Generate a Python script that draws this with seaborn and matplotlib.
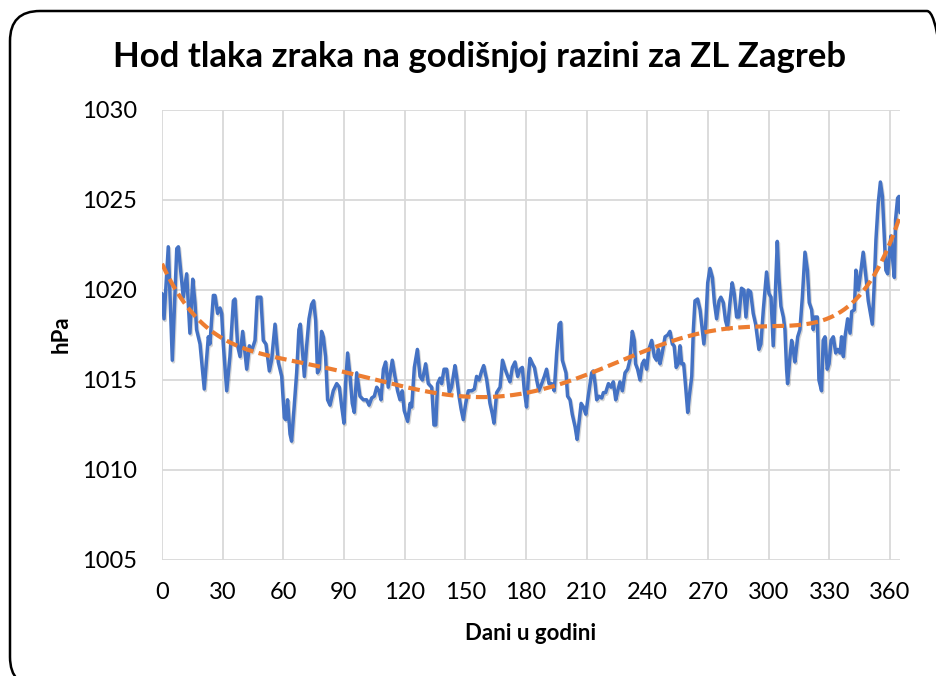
import numpy as np
import matplotlib
matplotlib.use("Agg")
import matplotlib.pyplot as plt
import matplotlib.patheffects as pe
from matplotlib.patches import FancyBboxPatch
from matplotlib.transforms import IdentityTransform
import seaborn as sns

# dnevni tlak zraka (hPa), ocitano sa slike
dani = [0, 1, 3.1, 5.1, 7.3, 8.1, 10.5, 12.2, 13.8, 15.2, 16.3, 17.1, 18.8, 20.9, 22.9, 23.7,
        25.4, 26.2, 27.5, 28.7, 29.5, 30.3, 32.0, 33.6, 35.3, 36.1, 37.4, 38.6, 39.9, 41.9,
        43.2, 44.3, 46.0, 47.1, 48.9, 50.1, 51.4, 53.1, 54.2, 55.9, 57.5, 59.2, 60.5,
        61.2, 62.1, 63.3, 64.1, 65.5, 66.6, 67.7, 68.4, 69.4, 70.4, 71.5, 72.7, 74.0, 75.0,
        76.0, 76.9, 77.8, 78.9, 79.8, 80.9, 81.9, 83.1, 84.7, 86.4, 87.7, 88.9, 90.0, 90.8,
        91.8, 93.0, 94.1, 95.1, 96.3, 97.9, 99.6, 101.2, 102.4, 103.7, 105.0, 106.2, 107.3,
        108.3, 109.5, 110.6, 111.9, 113.9, 115.2, 116.5, 117.7, 118.8, 119.8,
        121.5, 122.7, 123.5, 124.8, 126.3, 127.6, 128.8, 130.4, 131.7, 133.4, 134.5, 135.4,
        136.3, 137.5, 138.3, 139.5, 140.8, 142.1, 143.2, 144.9, 145.7, 146.9, 147.9, 149.0,
        150.2, 151.5, 153.2, 154.5, 155.6, 156.8, 158.1, 159.1, 160.6, 162.2, 163.4, 164.2,
        165.5, 167.2, 168.4, 169.7, 171.0, 172.1, 173.3, 174.6, 175.9, 177.1, 178.2,
        179.2, 180.3, 181.2, 182.0, 183.2, 184.2, 185.3, 186.4, 187.8, 189.1, 190.2, 191.4,
        192.7, 194.0, 195.2, 196.4, 197.2, 198.0, 199.0, 199.8, 200.6, 201.8, 202.9, 204.3,
        205.3, 206.2, 207.3, 208.4, 209.6, 210.8, 212.5, 213.3, 214.2, 215.0, 216.1, 217.5,
        218.3, 219.4, 220.8, 222.1, 223.2, 224.4, 225.4, 226.5, 227.7, 229.0, 230.3, 231.4,
        232.6, 233.6, 234.2, 235.2, 236.4, 237.5, 238.5,
        239.7, 240.8, 242.2, 243.5, 244.6, 245.5, 246.3, 247.4, 248.8, 250.1, 251.2, 252.4,
        253.3, 254.3, 255.3, 256.2, 257.0, 258.0, 259.0, 260.0, 260.8, 262.0, 262.8, 263.6,
        264.9, 266.1, 267.2, 268.0, 268.9, 269.9, 271.0, 272.2, 273.2, 274.3, 275.5, 276.4,
        277.6, 278.7, 279.7, 280.9, 282.0, 283.0, 284.2, 285.3, 286.6, 287.8, 288.8, 289.9,
        291.1, 292.4, 293.6,
        295.2, 296.2, 297.4, 299.0, 300.2, 301.2, 302.3, 303.2, 304.3, 305.1, 306.1, 307.3,
        308.1, 308.9, 309.4, 310.6, 311.4, 312.2, 313.0, 314.4, 315.5, 316.7, 318.0, 319.2,
        320.1, 321.3, 322.1, 322.9, 324.1, 324.9, 326.2, 327.0, 327.9, 329.0, 329.9, 330.9,
        332.0, 333.2, 334.2, 335.4, 336.1, 337.0, 337.8, 339.1, 340.3, 341.1, 342.4, 343.2,
        344.4, 345.7, 346.8, 348.0, 349.3, 350.4, 351.3, 352.2, 353.1, 354.2, 355.3, 356.3,
        357.2, 358.0, 358.9, 359.7, 360.5, 361.2, 362.2, 362.8, 363.8, 364.5, 365.0]

tlak = [1019.8, 1018.4, 1022.4, 1016.1, 1022.3, 1022.4, 1019.6, 1020.9, 1017.6, 1020.6, 1019.3,
        1017.8, 1017.0, 1014.5, 1017.4, 1017.0, 1019.7, 1019.7, 1018.7, 1019.0, 1018.7, 1017.0,
        1014.4, 1016.3, 1019.4, 1019.5, 1016.9, 1016.3, 1017.7, 1015.6, 1016.9, 1016.6, 1017.2,
        1019.6, 1019.6, 1017.2, 1017.0, 1015.5, 1016.1, 1018.1, 1016.0, 1015.2, 1012.9,
        1012.8, 1013.9, 1012.0, 1011.6, 1013.7, 1015.4, 1017.8, 1018.1, 1016.7, 1015.2, 1016.85,
        1018.4, 1019.2, 1019.4, 1018.3, 1015.4, 1015.6, 1017.7, 1017.4, 1016.3, 1013.9, 1013.6,
        1014.4, 1014.8, 1014.6, 1013.5, 1012.6, 1014.8, 1016.5, 1015.2, 1013.7, 1013.2, 1015.4,
        1014.1, 1013.9, 1013.9, 1013.6, 1014.0, 1014.1, 1014.6, 1014.4, 1013.9, 1015.6, 1016.0,
        1014.6, 1016.1, 1015.2, 1014.4, 1013.9, 1014.4, 1013.3,
        1012.7, 1013.7, 1013.5, 1015.7, 1016.7, 1015.2, 1015.0, 1015.9, 1014.8, 1014.6, 1012.5,
        1012.5, 1014.8, 1015.1, 1014.8, 1015.6, 1015.6, 1014.3, 1014.6, 1015.8, 1015.2, 1014.1,
        1013.4, 1012.8, 1013.7, 1014.4, 1014.4, 1014.5, 1015.2, 1015.0, 1015.5, 1015.8, 1015.0,
        1013.7, 1013.1, 1012.6, 1014.3, 1014.6, 1016.1, 1015.6, 1015.2, 1014.9, 1015.7, 1016.0,
        1015.2, 1015.6, 1015.7,
        1014.4, 1013.5, 1015.2, 1016.2, 1015.9, 1015.7, 1015.0, 1014.4, 1014.8, 1015.2, 1015.6,
        1014.8, 1014.8, 1014.4, 1016.5, 1018.1, 1018.2, 1016.1, 1015.7, 1015.4, 1014.1, 1013.9,
        1013.1, 1012.4, 1011.7, 1012.6, 1013.7, 1013.5, 1013.1, 1014.1, 1015.4, 1015.5, 1014.8,
        1013.9, 1014.1, 1014.0, 1014.3, 1014.3, 1014.8, 1014.6, 1014.9, 1013.9, 1014.4, 1014.9,
        1014.4, 1015.4, 1015.6, 1016.1, 1017.7, 1017.2, 1015.9, 1015.6, 1015.0, 1015.9, 1016.1,
        1015.6, 1016.7, 1017.2, 1016.3, 1016.1, 1016.7, 1015.9, 1016.5, 1017.4, 1017.5, 1017.7,
        1017.0, 1016.9, 1015.7, 1015.9, 1016.9, 1015.9, 1015.9, 1014.6, 1013.2, 1014.1, 1015.2,
        1017.8, 1019.4, 1019.5, 1018.9, 1017.8, 1017.0, 1018.1, 1020.4, 1021.2, 1020.7, 1019.3,
        1018.4, 1019.4, 1019.6, 1019.3, 1018.3, 1017.9, 1019.3, 1020.4, 1019.8, 1018.5, 1018.5,
        1020.1, 1020.0, 1018.5, 1020.0, 1019.9, 1018.7, 1018.1,
        1016.7, 1017.0, 1018.9, 1021.0, 1019.8, 1019.6, 1016.9, 1019.4, 1022.7, 1020.7, 1019.1,
        1018.5, 1017.8, 1015.6, 1014.8, 1016.3, 1017.2, 1016.7, 1016.0, 1017.4, 1017.8, 1019.6,
        1022.1, 1021.1, 1019.3, 1018.9, 1017.8, 1018.5, 1018.5, 1015.0, 1014.4, 1017.2, 1017.4,
        1015.6, 1015.9, 1017.2, 1017.4, 1016.5, 1016.7, 1016.5, 1017.4, 1016.3, 1017.4, 1018.4,
        1017.6, 1018.8, 1018.9, 1021.1, 1020.0, 1021.1, 1022.1, 1020.9, 1019.4, 1018.7, 1018.1,
        1020.2, 1022.8, 1024.8, 1026.0, 1025.2, 1023.0, 1021.1, 1020.9, 1022.0, 1023.0, 1021.9,
        1020.7, 1023.9, 1025.1, 1025.2, 1024.3]

x_ticks = list(range(0, 361, 30))
y_ticks = [1005, 1010, 1015, 1020, 1025, 1030]

sns.set_style("white")
plt.rcParams['font.family'] = ['Lato', 'DejaVu Sans']
plt.rcParams['text.color'] = 'black'

W, H = 937, 676
fig = plt.figure(figsize=(W / 100, H / 100), dpi=100)
ax = fig.add_axes([162 / W, 1 - 560 / H, (900 - 162) / W, 450 / H])

# polinomski trend (6. reda), kao u Excelu
coef = np.polyfit(dani, tlak, 6)
x_trend = np.linspace(0, 365, 400)
y_trend = np.polyval(coef, x_trend)

sns.lineplot(x=dani, y=tlak, ax=ax, color='#4472C4', linewidth=2.5,
             estimator=None, sort=False, zorder=3,
             path_effects=[pe.SimpleLineShadow(offset=(0.8, -1.2), alpha=0.25,
                                               shadow_color='#555555'), pe.Normal()])
sns.lineplot(x=x_trend, y=y_trend, ax=ax, color='#ED7D31', linewidth=3.0,
             estimator=None, sort=False, zorder=4)
ax.lines[-1].set_dashes((2.8, 1.3))

ax.set_xlim(0, 365)
ax.set_ylim(1005, 1030)
ax.set_xticks(x_ticks)
ax.set_yticks(y_ticks)
ax.grid(True, color='#D9D9D9', linewidth=1.3)
ax.set_axisbelow(True)
for s in ax.spines.values():
    s.set_visible(False)
ax.tick_params(axis='both', length=0, labelsize=17, colors='black')
ax.tick_params(axis='y', pad=18)
ax.tick_params(axis='x', pad=16)
ax.set_xlabel('')
ax.set_ylabel('')

fig.text(480 / W, 1 - 57 / H, 'Hod tlaka zraka na godišnjoj razini za ZL Zagreb',
         ha='center', va='center', fontsize=25, fontweight='bold', color='black')
fig.text(531 / W, 1 - 633 / H, 'Dani u godini', ha='center', va='center',
         fontsize=16, fontweight='bold', color='black')
fig.text(61 / W, 1 - 334 / H, 'hPa', ha='center', va='center', rotation=90,
         fontsize=16, fontweight='bold', color='black')

# okvir grafikona sa zaobljenim kutovima
frame = FancyBboxPatch((10, H - 687), 947, 676, boxstyle='round,pad=0,rounding_size=30',
                       transform=IdentityTransform(), fill=False, edgecolor='black',
                       linewidth=1.8, clip_on=False)
fig.add_artist(frame)

fig.savefig('out.png', dpi=100)
